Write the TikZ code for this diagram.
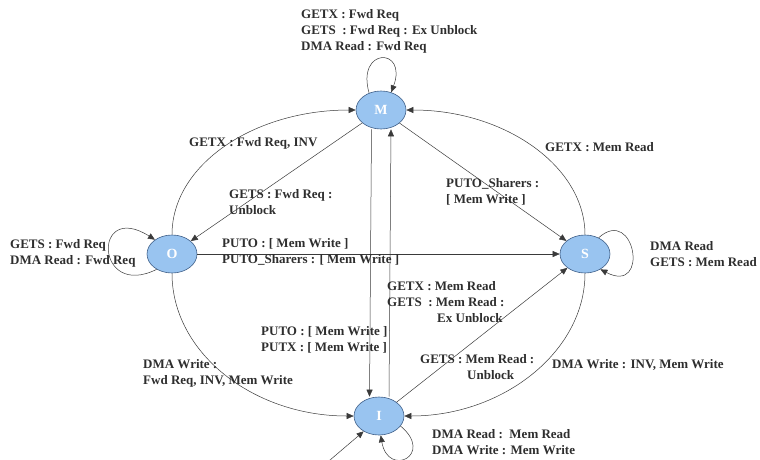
\documentclass[tikz,border=0pt]{standalone}
\usepackage{fontspec}
\setmainfont{Liberation Serif}
\usetikzlibrary{arrows.meta,shapes.geometric}
\definecolor{StateFill}{HTML}{99C4F0}
\definecolor{StateLine}{HTML}{3F5F88}
\definecolor{EdgeInk}{HTML}{3A3A3A}
\definecolor{LabelInk}{HTML}{2E2E2E}
\tikzset{
  every node/.style={font=\bfseries\fontsize{13}{16}\selectfont, text=LabelInk},
  cstate/.style={ellipse, draw=StateLine, line width=0.6pt, fill=StateFill,
    minimum width=50pt, minimum height=38pt, inner sep=0pt, text=white,
    font=\bfseries\fontsize{14}{16}\selectfont},
  trans/.style={-{Triangle[length=7pt,width=6pt]}, draw=EdgeInk, line width=0.5pt},
  lbl/.style={anchor=west, align=left, inner sep=0pt},
}

\begin{document}
\begin{tikzpicture}[x=1pt, y=1pt]
  \useasboundingbox (0,0) rectangle (760,-459);
  % States
  \node[cstate] (M) at (381,-110) {M};
  \node[cstate] (O) at (172,-254) {O};
  \node[cstate] (S) at (585,-254) {S};
  \node[cstate] (I) at (379,-416) {I};
  \coordinate (start) at (323,-466);
  % Outer arcs
  \draw[trans] (O.north) .. controls +(0,70) and +(-102,0) .. (M.west);
  \draw[trans] (S.north) .. controls +(0,68) and +(99,0) .. (M.east);
  \draw[trans] (S.south) .. controls +(0,-78) and +(99,0) .. (I.east);
  \draw[trans] (O.south) .. controls +(0,-79) and +(-101,0) .. (I.west);
  % Straight transitions
  \draw[trans] (M) -- (O);
  \draw[trans] (M) -- (S);
  \draw[trans] (O) -- (S);
  \draw[trans] (I) -- (S);
  \draw[trans] ([xshift=-9.5pt]M.south) -- ([xshift=-9.5pt]I.north);
  \draw[trans] ([xshift=10pt]I.north) -- ([xshift=10pt]M.south);
  \draw[trans] (start) -- (I.225);
  % Self loops
  \draw[trans] (M.125) .. controls (356,-47) and (408,-47) .. (M.60);
  \draw[trans] (O.225) .. controls (95,-300) and (92,-200) .. (O.140);
  \draw[trans] (S.50) .. controls (635,-205) and (650,-295) .. (S.-45);
  \draw[trans] (I.-25) .. controls (435,-455) and (388,-478) .. (I.-85);
  % Labels
  \node[lbl] (lblMM) at (301,-31)
    {GETX : Fwd Req\\GETS\ \ : Fwd Req : Ex Unblock\\DMA Read : Fwd Req};
  \node[lbl] (lblOM) at (189,-143) {GETX : Fwd Req, INV};
  \node[lbl] (lblMO) at (229,-202) {GETS : Fwd Req :\\Unblock};
  \node[lbl] (lblSM) at (545,-147) {GETX : Mem Read};
  \node[lbl] (lblMS) at (446,-192) {PUTO\_Sharers :\\{[} Mem Write ]};
  \node[lbl] (lblOO) at (10,-253) {GETS : Fwd Req\\DMA Read : Fwd Req};
  \node[lbl] (lblOS) at (222,-252)
    {PUTO : [ Mem Write ]\\PUTO\_Sharers : [ Mem Write ]};
  \node[lbl] (lblSS) at (650,-254) {DMA Read\\GETS : Mem Read};
  \node[lbl] (lblIM) at (387,-302)
    {GETX : Mem Read\\GETS\ \ : Mem Read :\\\hspace*{50pt}Ex Unblock};
  \node[lbl] (lblMI) at (261,-340) {PUTO : [ Mem Write ]\\PUTX : [ Mem Write ]};
  \node[lbl] (lblIS) at (420,-367) {GETS : Mem Read :\\\hspace*{47pt}Unblock};
  \node[lbl] (lblSI) at (552,-365) {DMA Write : INV, Mem Write};
  \node[lbl] (lblOI) at (143,-373) {DMA Write :\\Fwd Req, INV, Mem Write};
  \node[lbl] (lblII) at (432,-442) {DMA Read :\ \ Mem Read\\DMA Write : Mem Write};
\end{tikzpicture}
\end{document}
